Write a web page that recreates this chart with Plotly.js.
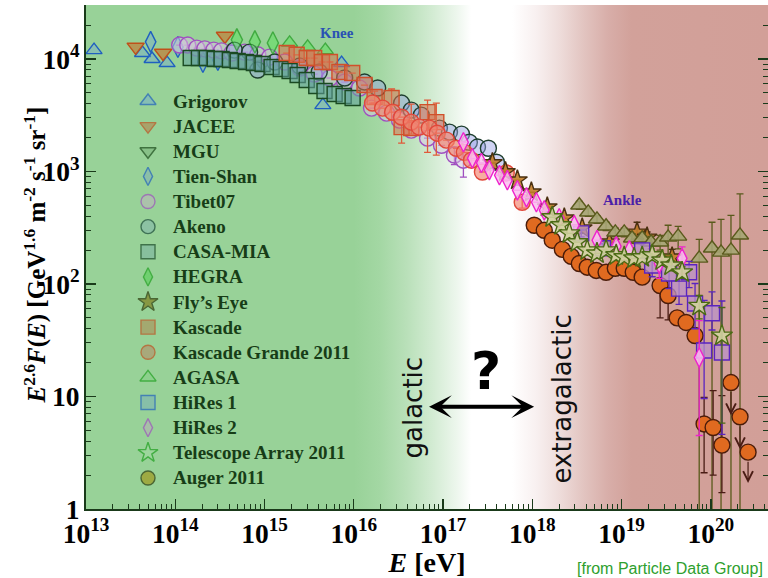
<!DOCTYPE html>
<html><head><meta charset="utf-8">
<script src="https://cdn.plot.ly/plotly-3.0.1.min.js"></script>
<style>html,body{margin:0;padding:0;background:#fff}#chart{width:768px;height:578px}</style>
</head><body><div id="chart"></div>
<script>
// ---------- data (E in eV, F = E^2.6 F(E) in GeV^1.6 m^-2 s^-1 sr^-1) ----------
const grigorovE = [1.23e13, 4.3e13, 5.5e13, 8.1e13, 4.5e15, 7.3e15];
const grigorovF = [12000, 11300, 10000, 9200, 3890, 9200];

const jaceeE = [3.6e13, 7.3e13, 3.6e14];
const jaceeF = [12800, 11300, 16000];

const mguE = [9.5e14, 2.48e15];
const mguF = [9020, 8320];

const tienShanE = [5.3e13, 1.07e14, 2.04e14, 3.0e14];
const tienShanF = [14200, 12800, 9400, 9800];

const tibetE = [1.12e14,1.38e14,1.74e14,2.14e14,2.7e14,3.3e14,4.3e14,6.0e14,8.4e14,1.14e15,1.68e15,2.48e15,3.6e15,5.4e15,7.9e15,1.16e16,1.58e16,2.33e16,3.25e16,4.4e16,6.7e16,9.6e16,1.34e17,1.69e17];
const tibetF = [13300,13300,12500,12300,12000,11800,11300,11500,10900,10400,9400,8320,7350,6780,6240,5520,3660,3300,2860,2330,1980,1710,1400,1260];
const tibetErrUp = [0,0,0,0,0,0,0,0,0,0,0,0,0,0,0,0,0,0,0,0,0,0,250,300];
const tibetErrDn = [0,0,0,0,0,0,0,0,0,0,0,0,0,0,0,0,0,0,0,0,0,0,250,370];

const akenoE = [4.6e14,6.8e14,8.4e14,1.3e15,2.48e15,4.1e15,7.9e15,1.32e16,1.85e16,3.43e16,4.4e16,5.7e16,9.1e16,1.18e17,1.61e17,1.97e17,2.43e17,3.22e17,3.96e17];
const akenoF = [12000,11500,7980,9400,8660,7660,6780,6240,5520,4060,3510,3170,2430,2240,2150,1820,1650,1610,1210];

const casaE = [1.49e14,1.84e14,2.26e14,2.77e14,3.3e14,4.1e14,5.0e14,6.2e14,7.6e14,9.5e14,1.2e15,1.52e15,1.91e15,2.35e15,2.97e15,3.8e15,4.7e15,6.1e15,7.7e15,9.7e15];
const casaF = [10200,10200,10200,10000,10000,9800,9600,9400,9200,9020,8490,8150,7820,7210,6500,5750,5190,4880,4690,4500];

const hegraE = [4.9e14, 7.8e14, 1.24e15, 1.91e15, 3.04e15, 4.8e15];
const hegraF = [14800, 14200, 13900, 13900, 12800, 12000];

const flysEyeE = [3.57e17,5.0e17,6.8e17,9.75e17,1.47e18,2.28e18,3.62e18,7.3e18,1.49e19,1.93e19,3.68e19];
const flysEyeF = [1190,990,837,654,481,384,313,235,288,260,173];
const flysEyeErrUp = [0,0,0,0,0,0,0,0,66,30,30];
const flysEyeErrDn = [0,0,0,0,0,0,0,0,60,30,30];

const kascadeE = [1.77e15,2.29e15,2.97e15,3.6e15,4.4e15,5.4e15,6.9e15,9.6e15,1.32e16,1.71e16,2.65e16,3.43e16,4.4e16,6.7e16,8.4e16];
const kascadeF = [11300,10900,10200,10200,9400,9400,7660,7500,5870,4590,4500,2480,2430,3370,2750];
const kascadeErrUp = [0,0,0,0,0,0,0,0,0,600,910,160,1545,940,1310];
const kascadeErrDn = [0,0,0,0,0,0,0,0,0,530,1630,690,280,1890,1350];

const kgE = [1.62e16,2.1e16,2.72e16,3.43e16,4.4e16,5.4e16,7.0e16,8.6e16,1.09e17,1.41e17,1.73e17,2.08e17,2.76e17,5.1e17,7.7e17];
const kgF = [4060,3660,3370,3040,2750,2480,2430,2190,1900,1610,1480,1260,990,970,533];
const kgErrUp = [0,0,0,0,0,0,0,0,0,0,0,0,0,60,60];
const kgErrDn = [0,0,0,0,0,0,0,0,0,0,0,0,0,60,60];

const agasaE = [3.36e18,4.23e18,5.3e18,6.7e18,8.5e18,1.07e19,1.31e19,1.70e19,2.14e19,2.7e19,3.32e19,4.3e19,7.4e19,1.03e20,1.30e20,1.68e20,2.12e20];
const agasaF = [501,434,376,326,288,288,255,255,235,235,260,265,169,208,191,199,271];
const agasaErrUp = [40,35,30,28,25,25,25,28,30,35,73,60,80,146,185,209,361];
const agasaErrDn = [40,35,30,28,25,25,25,28,30,35,78,60,168.7,207.7,190.7,198.7,270.7];

const hires1E = [3.53e18,6.2e18,1.70e19,2.2e19,3.4e19,4.4e19,5.7e19,6.65e19,8.4e19,1.03e20,1.33e20];
const hires1F = [282,208,199,146,124,91,127,67,25.6,55,24.6];
const hires1ErrUp = [20,20,30,30,35,20,32,34,46,30,46];
const hires1ErrDn = [20,20,30,30,33,25,34,27,16,16,20];

const hires2E = [1.69e17,2.13e17,2.69e17,3.30e17,4.28e17,5.25e17,6.8e17,8.6e17,1.11e18,1.36e18,2.0e18,2.95e18,5.3e18,8.7e18,1.22e19,2.64e19,4.76e19,7.4e19];
const hires2F = [1820,1310,1190,1030,927,837,681,590,533,452,384,333,245,216,199,152,169,22.2];
const hires2ErrUp = [0,0,0,0,0,0,0,0,0,0,0,0,0,0,0,40,45,25];
const hires2ErrDn = [0,0,0,0,0,0,0,0,0,0,0,0,0,0,0,40,45,17.7];

const taE = [1.67e18,2.1e18,2.6e18,3.19e18,4.12e18,5.3e18,6.7e18,8.7e18,1.07e19,1.38e19,1.70e19,2.2e19,2.85e19,3.59e19,4.76e19,7.4e19,1.33e20];
const taF = [392,333,282,235,199,187,199,180,173,169,173,180,162,146,127,64,34.8];
const taErrUp = [0,0,0,0,0,0,0,0,0,0,0,0,0,15,15,15,27];
const taErrDn = [0,0,0,0,0,0,0,0,0,0,0,0,0,15,15,15,29];

const augerE = [1.05e18,1.36e18,1.67e18,2.17e18,2.73e18,3.36e18,4.12e18,5.2e18,6.7e18,8.5e18,1.07e19,1.35e19,1.70e19,2.7e19,3.32e19,4.19e19,5.28e19,6.65e19,8.4e19,1.06e20,1.33e20];
const augerF = [333,300,245,203,176,152,141,132,127,138,138,127,115,97,79,50,45.5,34.8,5.7,5.3,3.7];
const augerErrUp = [0,0,0,0,0,0,0,0,0,0,0,0,0,8,6,0,0,0,4.1,6,6.5];
const augerErrDn = [0,0,0,0,0,0,0,0,0,0,0,0,0,47,31,0,0,0,3.6,3.3,2.3];
// Auger upper limits (value and arrow tip)
const augerLimE = [1.68e20, 2.12e20, 2.61e20];
const augerLimF = [13.3, 6.6, 3.2];
const augerLimTip = [6.8, 3.4, 1.7];

const legendNames = ['Grigorov','JACEE','MGU','Tien-Shan','Tibet07','Akeno','CASA-MIA','HEGRA','Fly\u2019s Eye','Kascade','Kascade Grande 2011','AGASA','HiRes 1','HiRes 2','Telescope Array 2011','Auger 2011'];

// ---------- styles ----------
const X_RANGE = [13, 20.64];
const Y_RANGE = [0, 4.48];
const SERIF = 'Liberation Serif, Times New Roman, serif';
const PLOT = {l: 86, t: 5, w: 682, h: 504};

function series(E, F, sym, size, lineCol, fillCol, up, dn, errCol) {
  const t = {
    type: 'scatter', mode: 'markers', x: E, y: F, showlegend: false, hoverinfo: 'skip',
    marker: {symbol: sym, size: size, color: fillCol, line: {color: lineCol, width: 1.4}}
  };
  if (up) {
    t.error_y = {type: 'data', symmetric: false, array: up, arrayminus: dn,
      color: errCol || lineCol, thickness: 1.3, width: 3.5};
  }
  return t;
}

const bg = {
  type: 'scatter', mode: 'lines', hoverinfo: 'skip', showlegend: false,
  x: [Math.pow(10, X_RANGE[0]), Math.pow(10, X_RANGE[1]), Math.pow(10, X_RANGE[1]), Math.pow(10, X_RANGE[0])],
  y: [Math.pow(10, Y_RANGE[0]), Math.pow(10, Y_RANGE[0]), Math.pow(10, Y_RANGE[1]), Math.pow(10, Y_RANGE[1])],
  fill: 'toself', line: {width: 0},
  fillgradient: {type: 'horizontal', colorscale: [
    [0, '#98d298'], [0.393, '#98d298'], [0.43, '#a3d7a3'], [0.47, '#b9e0b9'],
    [0.51, '#d4ecd4'], [0.545, '#eef7ee'], [0.565, '#ffffff'], [0.625, '#ffffff'],
    [0.66, '#f8f0f0'], [0.695, '#eedcda'], [0.73, '#e2c4c0'], [0.765, '#d8aea9'], [0.8, '#d2a19a'], [1, '#d29f98']]}
};

const data = [
  bg,
  series(grigorovE, grigorovF, 'triangle-up', 14, '#1f5fc0', 'rgba(110,160,220,0.35)'),
  series(jaceeE, jaceeF, 'triangle-down', 15, '#c0501a', 'rgba(200,110,40,0.6)'),
  series(mguE, mguF, 'triangle-down', 14, '#1a5a1a', 'rgba(60,140,60,0.4)'),
  series(tienShanE, tienShanF, 'diamond-tall', 15, '#1f5fc0', 'rgba(110,160,220,0.35)'),
  series(tibetE, tibetF, 'circle', 16, '#a050c0', 'rgba(215,200,225,0.5)', tibetErrUp, tibetErrDn),
  series(akenoE, akenoF, 'circle', 16, '#1f3f2f', 'rgba(150,160,230,0.45)'),
  series(casaE, casaF, 'square', 15, '#1a4a22', 'rgba(100,160,160,0.55)'),
  series(hegraE, hegraF, ['diamond-tall','diamond-tall','diamond-tall','triangle-up','triangle-up','triangle-up'], [16,16,16,14,14,14], '#1c9a1c', 'rgba(90,225,90,0.7)'),
  series(kascadeE, kascadeF, 'square', 15, '#d0502a', 'rgba(215,115,80,0.55)', kascadeErrUp, kascadeErrDn, '#e05a3a'),
  series(kgE, kgF, 'circle', 16, '#e0483a', 'rgba(242,130,110,0.65)', kgErrUp, kgErrDn),
  series(flysEyeE, flysEyeF, 'star', 15, '#4a3010', 'rgba(195,125,40,0.9)', flysEyeErrUp, flysEyeErrDn),
  series(agasaE, agasaF, 'triangle-up', 15, '#5a5a1c', 'rgba(165,165,115,0.9)', agasaErrUp, agasaErrDn),
  series(augerE, augerF, 'circle', 16, '#4a1c0a', '#e06a20', augerErrUp, augerErrDn, '#4a1c14'),
  {type: 'scatter', mode: 'markers', x: augerLimE, y: augerLimF, showlegend: false, hoverinfo: 'skip',
   marker: {symbol: 'circle', size: 16, color: '#e06a20', line: {color: '#4a1c0a', width: 1.4}}},
  series(hires1E, hires1F, 'square', 15, '#5a24c0', 'rgba(185,145,200,0.75)', hires1ErrUp, hires1ErrDn),
  series(hires2E, hires2F, 'diamond-tall', 14, '#ee22cc', 'rgba(250,190,240,0.85)', hires2ErrUp, hires2ErrDn),
  series(taE, taF, 'star', 16, '#4a6a14', 'rgba(210,210,160,0.9)', taErrUp, taErrDn)
];

// ---------- key (legend) : symbols on a hidden overlay axis, labels as text ----------
const legendStyle = [
  ['triangle-up', '#2060c0', '#7fb8c0'], ['triangle-down', '#c05020', '#b09058'],
  ['triangle-down', '#1a4a1a', '#82ba82'], ['diamond-tall', '#2060c0', '#88b8b0'],
  ['circle', '#a050c0', '#b4bcb4'], ['circle', '#1a4a3a', '#88bca8'],
  ['square', '#1a4a2a', '#80b8a0'], ['diamond-tall', '#20a020', '#60d060'],
  ['star', '#2a3a0a', '#808020'], ['square', '#c05020', '#a89860'],
  ['circle', '#c05020', '#b09870'], ['triangle-up', '#20a020', '#88d088'],
  ['square', '#2060c0', '#80b8b0'], ['diamond-tall', '#a050c0', '#b0b8b0'],
  ['star', '#20a020', '#a0d8a0'], ['circle', '#2a3a0a', '#a09a20']
];
const KEY_SYM_PX = 148, KEY_TXT_PX = 171, KEY_TOP_PX = 101, KEY_STEP_PX = 25.13;
const keyRowY = legendNames.map((_, i) => (PLOT.t + PLOT.h - (KEY_TOP_PX + i * KEY_STEP_PX)) / PLOT.h);
data.push({
  type: 'scatter', mode: 'markers', xaxis: 'x2', yaxis: 'y2', hoverinfo: 'skip', showlegend: false,
  x: legendNames.map(() => (KEY_SYM_PX - PLOT.l) / PLOT.w), y: keyRowY,
  marker: {symbol: legendStyle.map(s => s[0]),
    size: legendStyle.map(s => s[0] === 'diamond-tall' ? 13 : (s[0] === 'star' ? 15 : 14)),
    color: legendStyle.map(s => s[2]),
    line: {color: legendStyle.map(s => s[1]), width: 1.4}}
});

const annotations = [
  {x: 15.81, y: 4.23, xref: 'x', yref: 'y', text: '<b>Knee</b>', showarrow: false,
   font: {family: SERIF, size: 15, color: '#2a52b4'}},
  {x: 19.01, y: 2.744, xref: 'x', yref: 'y', text: '<b>Ankle</b>', showarrow: false,
   font: {family: SERIF, size: 15, color: '#4a20a8'}},
  {x: 16.66, y: 0.9, xref: 'x', yref: 'y', text: 'galactic', textangle: -90, showarrow: false,
   font: {family: 'DejaVu Sans', size: 26, color: '#111'}},
  {x: 18.33, y: 0.98, xref: 'x', yref: 'y', text: 'extragalactic', textangle: -90, showarrow: false,
   font: {family: 'DejaVu Sans', size: 26, color: '#111'}},
  {x: 17.48, y: 1.23, xref: 'x', yref: 'y', text: '<b>?</b>', showarrow: false,
   font: {family: 'DejaVu Sans', size: 52, color: '#000'}},
  {x: 18.02, y: 0.91, xref: 'x', yref: 'y', ax: 16.826, ay: 0.91, axref: 'x', ayref: 'y',
   text: '', showarrow: true, arrowside: 'end+start', arrowhead: 3, startarrowhead: 3,
   arrowsize: 0.95, startarrowsize: 0.95, arrowwidth: 4, arrowcolor: '#000'},
  {x: -0.0748, y: 0.505, xref: 'paper', yref: 'paper', textangle: -90, showarrow: false,
   xanchor: 'center', yanchor: 'middle',
   text: '<b><i>E</i><sup>2.6</sup><i>F</i>(<i>E</i>) [GeV<sup>1.6</sup> m<sup>-2</sup> s<sup>-1</sup> sr<sup>-1</sup>]</b>',
   font: {family: SERIF, size: 25, color: '#000'}},
  {x: 0.717, y: -0.119, xref: 'paper', yref: 'paper', xanchor: 'left', yanchor: 'middle',
   text: '[from Particle Data Group]', showarrow: false,
   font: {family: 'Liberation Sans, Arial, sans-serif', size: 16, color: '#2ea02e'}}
];

legendNames.forEach((nm, i) => {
  annotations.push({x: (KEY_TXT_PX - PLOT.l) / PLOT.w, y: keyRowY[i], xref: 'paper', yref: 'paper',
    xanchor: 'left', yanchor: 'middle', showarrow: false, text: '<b>' + nm + '</b>',
    font: {family: SERIF, size: 19, color: '#173d17'}});
});

augerLimE.forEach((e, i) => {
  annotations.push({x: Math.log10(e), y: Math.log10(augerLimTip[i]), ax: Math.log10(e), ay: Math.log10(augerLimF[i]),
    xref: 'x', yref: 'y', axref: 'x', ayref: 'y', text: '', showarrow: true,
    arrowhead: 5, arrowsize: 1.6, arrowwidth: 1.2, arrowcolor: '#4a1c14', startstandoff: 8});
});

const axisCommon = {
  type: 'log', showgrid: false, zeroline: false, showline: true, linecolor: '#1a3a1a', linewidth: 2,
  ticks: 'inside', ticklen: 10, tickwidth: 1.3, tickcolor: '#1a3a1a', dtick: 1,
  exponentformat: 'power', showexponent: 'all',
  tickfont: {family: SERIF, size: 22, color: '#000', weight: 'bold'},
  minor: {ticks: 'inside', ticklen: 5, tickwidth: 1, tickcolor: '#1a3a1a', dtick: 'D1', showgrid: false}
};

const layout = {
  width: 768, height: 578,
  margin: {l: PLOT.l, r: 0, t: PLOT.t, b: 69, pad: 0},
  paper_bgcolor: '#ffffff', plot_bgcolor: '#ffffff',
  hovermode: false, showlegend: false,
  xaxis: Object.assign({}, axisCommon, {range: X_RANGE, mirror: false,
    title: {text: '<b><i>E</i> [eV]</b>', font: {family: SERIF, size: 28, color: '#000'}, standoff: 3}}),
  yaxis: Object.assign({}, axisCommon, {range: Y_RANGE, mirror: 'ticks'}),
  xaxis2: {overlaying: 'x', range: [0, 1], visible: false, fixedrange: true},
  yaxis2: {overlaying: 'y', range: [0, 1], visible: false, fixedrange: true},
  shapes: [{type: 'line', xref: 'x', yref: 'paper', x0: 16, x1: 16, y0: 0, y1: 1,
    line: {color: '#4a9a4a', width: 1}}],
  annotations: annotations
};

Plotly.newPlot('chart', data, layout, {staticPlot: true, displayModeBar: false});
</script></body></html>
